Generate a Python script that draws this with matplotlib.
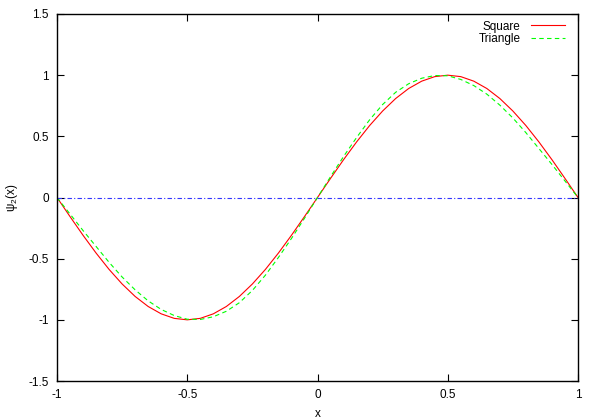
import matplotlib
matplotlib.use("Agg")
import matplotlib.pyplot as plt

x_vals = [-1.00, -0.95, -0.90, -0.85, -0.80, -0.75, -0.70, -0.65, -0.60, -0.55,
          -0.50, -0.45, -0.40, -0.35, -0.30, -0.25, -0.20, -0.15, -0.10, -0.05,
          0.00, 0.05, 0.10, 0.15, 0.20, 0.25, 0.30, 0.35, 0.40, 0.45,
          0.50, 0.55, 0.60, 0.65, 0.70, 0.75, 0.80, 0.85, 0.90, 0.95, 1.00]

square = [0.000, -0.156, -0.309, -0.454, -0.588, -0.707, -0.809, -0.891, -0.951, -0.988,
          -1.000, -0.988, -0.951, -0.891, -0.809, -0.707, -0.588, -0.454, -0.309, -0.156,
          0.000, 0.156, 0.309, 0.454, 0.588, 0.707, 0.809, 0.891, 0.951, 0.988,
          1.000, 0.988, 0.951, 0.891, 0.809, 0.707, 0.588, 0.454, 0.309, 0.156, 0.000]

triangle = [0.000, -0.135, -0.270, -0.400, -0.530, -0.650, -0.755, -0.845, -0.915, -0.965,
            -0.995, -0.997, -0.975, -0.930, -0.860, -0.760, -0.635, -0.490, -0.335, -0.170,
            0.000, 0.170, 0.335, 0.490, 0.635, 0.760, 0.860, 0.930, 0.975, 0.997,
            0.995, 0.965, 0.915, 0.845, 0.755, 0.650, 0.530, 0.400, 0.270, 0.135, 0.000]

zero_x = [-1.0, 1.0]
zero_y = [0.0, 0.0]

xticks = [-1, -0.5, 0, 0.5, 1]
xtick_labels = ["-1", "-0.5", "0", "0.5", "1"]
yticks = [-1.5, -1, -0.5, 0, 0.5, 1, 1.5]
ytick_labels = ["-1.5", "-1", "-0.5", "0", "0.5", "1", "1.5"]

plt.rcParams['font.family'] = ['Liberation Sans', 'DejaVu Sans']
plt.rcParams['mathtext.fontset'] = 'custom'
plt.rcParams['mathtext.rm'] = 'Liberation Sans'
plt.rcParams['mathtext.default'] = 'regular'

fig = plt.figure(figsize=(6, 4.2), dpi=100)
ax = fig.add_axes([57/600, 1 - 381/420, (578-57)/600, (381-14)/420])

l1, = ax.plot(x_vals, square, color='#ff0000', lw=0.8, label='Square')
l2, = ax.plot(x_vals, triangle, color='#00ff00', lw=0.8, dashes=(4, 3), label='Triangle')
ax.plot(zero_x, zero_y, color='#3333ff', lw=0.8, dashes=(4, 2, 1, 2))

ax.set_xlim(-1, 1)
ax.set_ylim(-1.5, 1.5)
ax.set_xticks(xticks)
ax.set_xticklabels(xtick_labels)
ax.set_yticks(yticks)
ax.set_yticklabels(ytick_labels)
ax.tick_params(direction='in', length=5, width=0.8, top=True, right=True,
               labelsize=8.5, pad=6)
for s in ax.spines.values():
    s.set_linewidth(1.0)

ax.set_xlabel('x', fontsize=8.5, labelpad=5)
ax.set_ylabel('ψ$_2$(x)', fontsize=8.5, labelpad=6)

leg = ax.legend(loc='upper right', frameon=False, fontsize=8.5, handlelength=2.9,
                markerfirst=False, borderaxespad=0.0, labelspacing=0.05,
                handletextpad=0.9, bbox_to_anchor=(0.985, 0.995))
for t in leg.get_texts():
    t.set_ha('right')

fig.savefig('out.png', dpi=100)
